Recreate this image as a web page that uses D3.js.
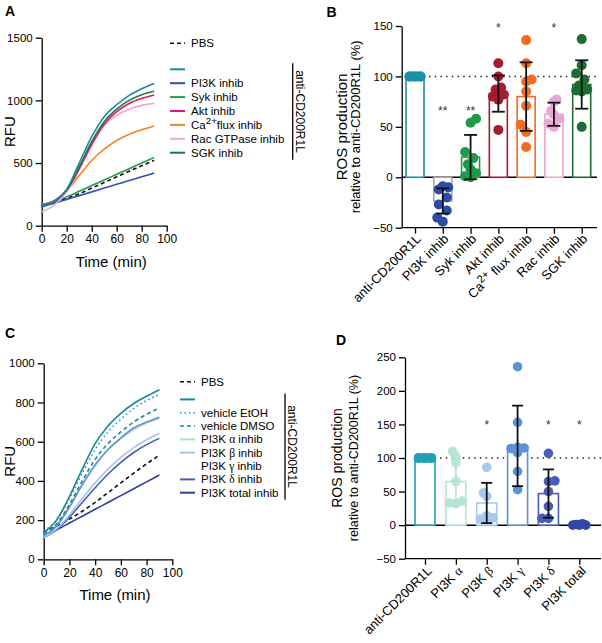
<!DOCTYPE html>
<meta charset="utf-8">
<style>
body { margin: 0; background: #fff; }
svg { font-family: "Liberation Sans", Arial, Helvetica, sans-serif; }
.axis path, .axis line { stroke: #000; stroke-width: 1.3; }
.axis text { font-size: 11.5px; fill: #000; font-family: "Liberation Sans", Arial, sans-serif; }
.lbl { font-size: 14px; font-weight: bold; }
</style>
<svg width="602" height="643"></svg>
<script src="https://cdn.jsdelivr.net/npm/d3@7"></script>
<script>
// ---------- data: kinetics (RFU) ----------
var timeMin = [0, 10, 20, 30, 40, 50, 60, 70, 80, 90];

// panel A
var pbsA  = [165, 190, 220, 255, 300, 345, 390, 435, 478, 522];
var antiA = [160, 195, 290, 500, 710, 870, 965, 1040, 1092, 1135];
var pi3kA = [150, 180, 210, 240, 270, 300, 330, 360, 390, 420];
var sykA  = [165, 195, 230, 275, 320, 365, 410, 455, 500, 545];
var aktA  = [160, 192, 280, 455, 650, 810, 910, 975, 1015, 1043];
var caA   = [170, 200, 280, 400, 520, 610, 680, 730, 765, 795];
var racA  = [112, 165, 270, 445, 640, 800, 880, 930, 960, 976];
var sgkA  = [165, 197, 288, 470, 670, 830, 930, 1000, 1045, 1072];

// panel C
var pbsC   = [140, 170, 205, 245, 290, 340, 390, 440, 487, 532];
var antiC  = [135, 200, 320, 460, 590, 680, 745, 795, 832, 865];
var etohC  = [145, 200, 310, 440, 560, 650, 715, 770, 810, 840];
var dmsoC  = [130, 180, 280, 400, 510, 590, 650, 700, 740, 772];
var alphaC = [120, 170, 270, 385, 485, 560, 615, 660, 695, 720];
var betaC  = [110, 155, 225, 310, 390, 460, 520, 570, 610, 643];
var gammaC = [120, 170, 265, 380, 480, 560, 620, 670, 700, 725];
var deltaC = [110, 150, 215, 290, 365, 435, 495, 545, 585, 617];
var totalC = [125, 150, 185, 220, 255, 290, 325, 360, 395, 430];

// ---------- data: ROS relative to anti-CD200R1L (%) ----------
var catsB  = ["anti-CD200R1L", "PI3K inhib", "Syk inhib", "Akt inhib", "Ca^{2+} flux inhib", "Rac inhib", "SGK inhib"];
var meanB  = [100, -23.5, 20, 83, 80, 62.5, 92];
var sdB    = [0, 12.5, 22, 18, 34, 11.5, 24];
var sigB   = ["", "**", "**", "*", "", "*", ""];
var sigAtB = [0, 68, 68, 150, 0, 150, 0];
var dotsB  = [
  [100, 100, 100, 100, 100, 100, 100, 100],
  [-9, -10, -12, -20, -27, -33, -40, -44],
  [58, 54, 25, 19, 13, 8, 4, 1, 0],
  [113, 100, 89, 87, 85, 82, 80, 77, 47],
  [136, 113, 97, 95, 85, 71, 52, 45, 30],
  [77, 75, 66, 62, 58, 53, 50],
  [137, 111, 103, 97, 91, 88, 87, 86, 85, 50]
];

var catsD  = ["anti-CD200R1L", "PI3K α", "PI3K β", "PI3K γ", "PI3K δ", "PI3K total"];
var meanD  = [100, 65, 33, 118, 47, 1];
var sdD    = [0, 33, 30, 60, 36, 0];
var sigD   = ["", "", "*", "", "*", "*"];
var sigAtD = [0, 0, 152, 0, 152, 152];
var dotsD  = [
  [100, 100, 100, 100, 100, 100, 100, 100],
  [110, 102, 93, 65, 36, 33, 32],
  [86, 48, 43, 14, 11, 9, 8],
  [236, 153, 116, 115, 114, 108, 80, 53],
  [107, 66, 65, 50, 28, 10, 10],
  [2, 1, 1, 0, 0, 0]
];

var svg = d3.select("svg");

// text with ^{sup} and serif greek letters
function richText(sel, str, fs) {
  sel.text(null);
  var parts = str.split(/(\^\{[^}]*\}|[αβγδ])/).filter(function(p) { return p !== ""; });
  var raised = false;
  parts.forEach(function(p) {
    var t;
    if (p[0] === "^") {
      sel.append("tspan").attr("dy", -fs * 0.4).style("font-size", (fs * 0.85) + "px").text(p.slice(2, -1));
      raised = true;
      return;
    }
    if (/^[αβγδ]$/.test(p)) {
      t = sel.append("tspan").style("font-family", '"Liberation Serif", "Times New Roman", serif').text(p);
    } else {
      t = sel.append("tspan").text(p);
    }
    if (raised) { t.attr("dy", fs * 0.4); raised = false; }
  });
}

function linePanel(cfg) {
  var g = svg.append("g");
  var x = d3.scaleLinear().domain([0, 100]).range(cfg.xr);
  var y = d3.scaleLinear().domain(cfg.yd).range(cfg.yr);

  g.append("g").attr("class", "axis").attr("transform", "translate(0," + cfg.yr[0] + ")")
    .call(d3.axisBottom(x).tickValues([0, 20, 40, 60, 80, 100]).tickSize(6).tickPadding(3).tickSizeOuter(0))
    .selectAll("text").style("font-size", "12px");
  g.append("g").attr("class", "axis").attr("transform", "translate(" + cfg.xr[0] + ",0)")
    .call(d3.axisLeft(y).tickValues(cfg.yticks).tickFormat(d3.format("d")).tickSize(6).tickPadding(3).tickSizeOuter(0));

  g.append("text").attr("x", (cfg.xr[0] + cfg.xr[1]) / 2 + 7).attr("y", cfg.yr[0] + 41)
    .attr("text-anchor", "middle").style("font-size", "15px").text("Time (min)");
  g.append("text").attr("transform", "translate(15," + ((cfg.yr[0] + cfg.yr[1]) / 2) + ") rotate(-90)")
    .attr("text-anchor", "middle").style("font-size", "15px").text("RFU");

  var line = d3.line()
    .x(function(d, i) { return x(timeMin[i]); })
    .y(function(d) { return y(d); })
    .curve(d3.curveMonotoneX);

  cfg.series.forEach(function(s) {
    g.append("path").attr("d", line(s.values)).attr("fill", "none")
      .attr("stroke", s.color).attr("stroke-width", 1.6)
      .attr("stroke-dasharray", s.dash || null);
  });

  // legend
  var lx = cfg.legendX;
  var leg = g.append("g").style("font-size", "11.5px");
  cfg.legend.forEach(function(s, i) {
    var yy = i === 0 ? cfg.legendY0 : cfg.legendY1 + (i - 1) * cfg.legendStep;
    if (s.color) {
      leg.append("line").attr("x1", lx).attr("x2", lx + 15).attr("y1", yy).attr("y2", yy)
        .attr("stroke", s.color).attr("stroke-width", s.dash ? 1.6 : 2)
        .attr("stroke-dasharray", s.dash || null);
    }
    if (s.name) {
      var t = leg.append("text").attr("x", lx + 21).attr("y", yy + 4);
      richText(t, s.name, 11.5);
    }
  });
  var b0 = cfg.legendY1 - 6, b1 = cfg.legendY1 + (cfg.legend.length - 2) * cfg.legendStep + 7;
  leg.append("line").attr("x1", cfg.braceX).attr("x2", cfg.braceX).attr("y1", b0).attr("y2", b1)
    .attr("stroke", "#000").attr("stroke-width", 1.3);
  leg.append("text").attr("transform", "translate(" + (cfg.braceX + 3) + "," + ((b0 + b1) / 2) + ") rotate(90)")
    .attr("text-anchor", "middle").style("font-size", "12px").text("anti-CD200R1L");

  g.append("text").attr("class", "lbl").attr("x", cfg.tag[1]).attr("y", cfg.tag[2]).text(cfg.tag[0]);
}

// simple deterministic column scatter (Prism-like)
function swarm(vals, y, r, maxOff) {
  var placed = [];
  var fallback = [-maxOff, maxOff, 0, -maxOff / 2, maxOff / 2];
  var nFall = 0;
  var order = vals.map(function(v, i) { return i; }).sort(function(a, b) { return vals[a] - vals[b]; });
  order.forEach(function(i) {
    var py = y(vals[i]), off = null, step = r * 0.8;
    for (var k = 0; k < 10 && off === null; k++) {
      var cands = k === 0 ? [0] : [-k * step, k * step];
      for (var c = 0; c < cands.length; c++) {
        if (Math.abs(cands[c]) > maxOff) continue;
        var ok = placed.every(function(p) { return Math.hypot(p.dx - cands[c], p.y - py) >= 2 * r * 0.92; });
        if (ok) { off = cands[c]; break; }
      }
    }
    if (off === null) off = fallback[nFall++ % fallback.length];
    placed.push({ dx: off, y: py });
  });
  return placed;
}

function barPanel(cfg) {
  var g = svg.append("g");
  var x = d3.scalePoint().domain(cfg.cats).range(cfg.xr);
  var y = d3.scaleLinear().domain(cfg.yd).range(cfg.yr);
  var bw = cfg.bw;

  // reference line at 100%
  g.append("line").attr("x1", x(cfg.cats[0]) + bw / 2 + 5).attr("x2", cfg.xEnd)
    .attr("y1", y(100)).attr("y2", y(100))
    .attr("stroke", "#222").attr("stroke-width", 1.5).attr("stroke-dasharray", "1.5,4.2");

  // axes
  g.append("g").attr("class", "axis").attr("transform", "translate(" + cfg.yx + ",0)")
    .call(d3.axisLeft(y).tickValues(cfg.yticks).tickSize(6).tickPadding(3).tickSizeOuter(0));
  var xa = g.append("g").attr("class", "axis").attr("transform", "translate(0," + cfg.yr[0] + ")")
    .call(d3.axisBottom(x).tickSize(6).tickSizeOuter(0));
  xa.select(".domain").remove();
  xa.append("line").attr("x1", cfg.yx).attr("x2", cfg.xEnd).attr("stroke", "#000").attr("stroke-width", 1.3);
  xa.selectAll(".tick text").each(function(d) {
    var t = d3.select(this).attr("x", 0).attr("y", 0).attr("dy", null)
      .attr("text-anchor", "end").style("font-size", "13px")
      .attr("transform", "translate(" + cfg.lblOff[0] + "," + cfg.lblOff[1] + ") rotate(-45)");
    richText(t, d, 13);
  });
  g.append("line").attr("x1", cfg.yx).attr("x2", cfg.xEnd).attr("y1", y(0)).attr("y2", y(0))
    .attr("stroke", "#000").attr("stroke-width", 1.5);

  // y title
  var yc = (cfg.yr[0] + cfg.yr[1]) / 2;
  g.append("text").attr("transform", "translate(" + cfg.titleX[0] + "," + yc + ") rotate(-90)")
    .attr("text-anchor", "middle").style("font-size", cfg.titleFs[0] + "px").text("ROS production");
  g.append("text").attr("transform", "translate(" + cfg.titleX[1] + "," + yc + ") rotate(-90)")
    .attr("text-anchor", "middle").style("font-size", cfg.titleFs[1] + "px").text("relative to anti-CD200R1L (%)");

  cfg.cats.forEach(function(c, i) {
    var cx = x(c);
    var y0 = y(0), y1 = y(cfg.mean[i]);
    g.append("rect").attr("x", cx - bw / 2).attr("width", bw)
      .attr("y", Math.min(y0, y1)).attr("height", Math.abs(y1 - y0))
      .attr("fill", "#fff").attr("stroke", cfg.barColors[i]).attr("stroke-width", 1.6);
    swarm(cfg.dots[i], y, cfg.r, cfg.maxOff).forEach(function(p) {
      g.append("circle").attr("cx", cx + p.dx).attr("cy", p.y).attr("r", cfg.r).attr("fill", cfg.colors[i]);
    });
    if (cfg.sd[i] > 0) {
      var hi = y(cfg.mean[i] + cfg.sd[i]), lo = y(cfg.mean[i] - cfg.sd[i]);
      var ec = cfg.errColors[i];
      g.append("line").attr("x1", cx).attr("x2", cx).attr("y1", hi).attr("y2", lo)
        .attr("stroke", ec).attr("stroke-width", 1.8);
      [hi, lo].forEach(function(yy) {
        g.append("line").attr("x1", cx - cfg.cap).attr("x2", cx + cfg.cap).attr("y1", yy).attr("y2", yy)
          .attr("stroke", ec).attr("stroke-width", 1.8);
      });
    }
    if (cfg.sig[i]) {
      g.append("text").attr("x", cx).attr("y", y(cfg.sigAt[i]) + 6).attr("text-anchor", "middle")
        .style("font-size", "12px").attr("fill", "#333").text(cfg.sig[i]);
    }
  });

  g.append("text").attr("class", "lbl").attr("x", cfg.tag[1]).attr("y", cfg.tag[2]).text(cfg.tag[0]);
}

// ---------- panel A ----------
linePanel({
  tag: ["A", 5, 15.5],
  xr: [41.7, 166.7], yd: [0, 1500], yr: [225.7, 37.7], yticks: [0, 500, 1000, 1500],
  series: [
    { values: pbsA, color: "#111", dash: "4,3" },
    { values: pi3kA, color: "#2a4fbf" },
    { values: sykA, color: "#1c9e4a" },
    { values: caA, color: "#ff7f1a" },
    { values: racA, color: "#f2a6d6" },
    { values: aktA, color: "#e0186c" },
    { values: sgkA, color: "#1e7a3c" },
    { values: antiA, color: "#1a8aa0" }
  ],
  legend: [
    { name: "PBS", color: "#111", dash: "4,3" },
    { name: "", color: "#1a8aa0" },
    { name: "PI3K inhib", color: "#2a4fbf" },
    { name: "Syk inhib", color: "#1c9e4a" },
    { name: "Akt inhib", color: "#e0186c" },
    { name: "Ca^{2+}flux inhib", color: "#ff7f1a" },
    { name: "Rac GTPase inhib", color: "#f2a6d6" },
    { name: "SGK inhib", color: "#1e7a3c" }
  ],
  legendX: 170, legendY0: 43.3, legendY1: 69.3, legendStep: 13.9, braceX: 292.7
});

// ---------- panel C ----------
linePanel({
  tag: ["C", 5, 338],
  xr: [43.7, 172.3], yd: [0, 1000], yr: [559.3, 363.3], yticks: [0, 200, 400, 600, 800, 1000],
  series: [
    { values: totalC, color: "#2d40a0" },
    { values: pbsC, color: "#111", dash: "4,3" },
    { values: deltaC, color: "#4a5ab5" },
    { values: betaC, color: "#a4c6ee" },
    { values: alphaC, color: "#b0e0cc" },
    { values: gammaC, color: "#6a8dd6" },
    { values: dmsoC, color: "#1a8aa0", dash: "4,3" },
    { values: etohC, color: "#1a9bb0", dash: "1.5,3" },
    { values: antiC, color: "#17899e" }
  ],
  legend: [
    { name: "PBS", color: "#111", dash: "4,3" },
    { name: "", color: "#17899e" },
    { name: "vehicle EtOH", color: "#1a9bb0", dash: "1.5,3" },
    { name: "vehicle DMSO", color: "#1a8aa0", dash: "4,3" },
    { name: "PI3K α inhib", color: "#b0e0cc" },
    { name: "PI3K β inhib", color: "#a4c6ee" },
    { name: "PI3K γ inhib", color: null },
    { name: "PI3K δ inhib", color: "#4a5ab5" },
    { name: "PI3K total inhib", color: "#2d40a0" }
  ],
  legendX: 180, legendY0: 381.7, legendY1: 399.4, legendStep: 13.33, braceX: 285
});

// ---------- panel B ----------
barPanel({
  tag: ["B", 326.5, 16.7],
  cats: catsB, mean: meanB, sd: sdB, dots: dotsB, sig: sigB, sigAt: sigAtB,
  colors: ["#1a8fa8", "#2c4ca8", "#1e9a4a", "#a51b30", "#f26b22", "#e8a8d4", "#1e6b34"],
  barColors: ["#1a8fa8", "#a3a3b5", "#1e9a4a", "#a51b30", "#f26b22", "#e8a8d4", "#1e6b34"],
  errColors: ["#111", "#111", "#111", "#111", "#111", "#111", "#111"],
  xr: [415, 581.7], yx: 401.7, xEnd: 597, yd: [-50, 150], yr: [227.7, 26], yticks: [-50, 0, 50, 100, 150],
  bw: 18, r: 5, maxOff: 5.5, cap: 6.5, lblOff: [6, 12],
  titleX: [347, 359.5], titleFs: [15, 13]
});

// ---------- panel D ----------
barPanel({
  tag: ["D", 336, 345],
  cats: catsD, mean: meanD, sd: sdD, dots: dotsD, sig: sigD, sigAt: sigAtD,
  colors: ["#1fa0b6", "#b8e4d3", "#a8c9ef", "#5b93d8", "#4b5cb8", "#2e48a8"],
  barColors: ["#1fa0b6", "#b8e4d3", "#a8c9ef", "#5b93d8", "#4b5cb8", "#2e48a8"],
  errColors: ["#111", "#b8e4d3", "#111", "#111", "#111", "#111"],
  xr: [425, 579.3], yx: 405, xEnd: 601, yd: [-50, 250], yr: [558.7, 357.3], yticks: [-50, 0, 50, 100, 150, 200, 250],
  bw: 20, r: 4.8, maxOff: 6.5, cap: 5.5, lblOff: [7, 13],
  titleX: [342, 357.5], titleFs: [14, 12.5]
});
</script>
